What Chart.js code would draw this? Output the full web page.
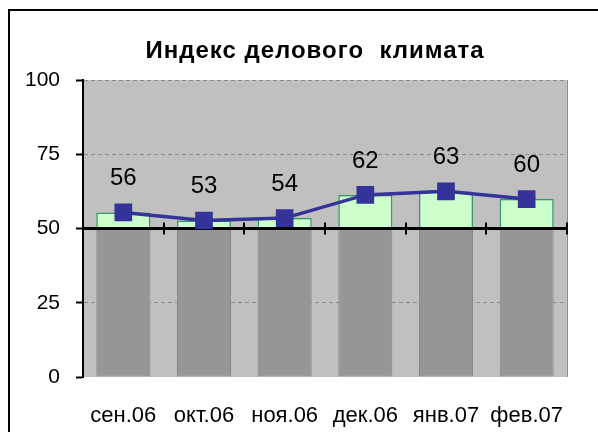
<!DOCTYPE html>
<html>
<head>
<meta charset="utf-8">
<script src="https://cdn.jsdelivr.net/npm/chart.js@4"></script>
<style>
  html, body { margin: 0; padding: 0; background: #fff; }
</style>
</head>
<body>
<canvas id="chart" width="598" height="432"></canvas>
<script>
const months = ['сен.06', 'окт.06', 'ноя.06', 'дек.06', 'янв.07', 'фев.07'];
const indexValues = [55.4, 52.7, 53.5, 61.3, 62.5, 59.9];
const valueLabels = ['56', '53', '54', '62', '63', '60'];
const lowerBars = [50, 50, 50, 50, 50, 50];
const crossValue = 50;
const yTicks = [0, 25, 50, 75, 100];
const titleText = 'Индекс делового  климата';

const FONT = '"Liberation Sans", Arial, sans-serif';

// grey plot area, title and the outer frame
const frame = {
  id: 'frame',
  beforeDraw(chart) {
    const { ctx, chartArea: a } = chart;
    ctx.save();
    ctx.fillStyle = '#c0c0c0';
    ctx.fillRect(a.left, a.top, a.right - a.left, a.bottom - a.top);
    ctx.strokeStyle = '#8c8c8c';
    ctx.lineWidth = 1;
    ctx.beginPath();
    ctx.moveTo(a.right + 0.5, a.top);
    ctx.lineTo(a.right + 0.5, a.bottom);
    ctx.stroke();
    ctx.restore();
  },
  afterDraw(chart) {
    const { ctx } = chart;
    ctx.save();
    ctx.fillStyle = '#000';
    ctx.font = 'bold 24px ' + FONT;
    ctx.letterSpacing = '1px';
    ctx.textAlign = 'center';
    ctx.textBaseline = 'middle';
    ctx.fillText(titleText, 315, 51);
    ctx.letterSpacing = '0px';
    ctx.strokeStyle = '#000';
    ctx.lineWidth = 2;
    ctx.strokeRect(9, 10, 700, 600);
    ctx.restore();
  }
};

// category axis crossing at 50, drawn under the line series
const crossAxis = {
  id: 'crossAxis',
  beforeDatasetDraw(chart, args) {
    if (args.index !== 0) return;
    const { ctx, chartArea: a, scales } = chart;
    const y = scales.y.getPixelForValue(crossValue);
    ctx.save();
    ctx.strokeStyle = '#000';
    ctx.lineWidth = 3;
    ctx.beginPath();
    ctx.moveTo(a.left, y);
    ctx.lineTo(a.right, y);
    ctx.stroke();
    ctx.lineWidth = 2;
    for (let k = 1; k <= months.length; k++) {
      const x = Math.round(scales.x.getPixelForValue(k - 0.5));
      ctx.beginPath();
      ctx.moveTo(x, y - 6);
      ctx.lineTo(x, y + 6);
      ctx.stroke();
    }
    ctx.restore();
  }
};

const pointLabels = {
  id: 'pointLabels',
  afterDatasetsDraw(chart) {
    const { ctx } = chart;
    const meta = chart.getDatasetMeta(0);
    ctx.save();
    ctx.fillStyle = '#000';
    ctx.font = '24px ' + FONT;
    ctx.textAlign = 'center';
    ctx.textBaseline = 'middle';
    meta.data.forEach((pt, i) => {
      ctx.fillText(valueLabels[i], pt.x, pt.y - 34);
    });
    ctx.restore();
  }
};

new Chart(document.getElementById('chart'), {
  type: 'bar',
  data: {
    labels: months,
    datasets: [
      {
        type: 'line',
        data: indexValues,
        borderColor: '#333399',
        backgroundColor: '#333399',
        borderWidth: 3.5,
        pointStyle: 'rect',
        pointRadius: 12.5,
        pointHoverRadius: 12.5,
        pointBorderWidth: 0,
        tension: 0,
        order: 0
      },
      {
        data: lowerBars,
        backgroundColor: '#969696',
        borderColor: '#888888',
        borderWidth: 1,
        borderSkipped: false,
        barPercentage: 0.67,
        categoryPercentage: 1,
        order: 2
      },
      {
        data: indexValues.map(v => [crossValue, v]),
        backgroundColor: '#ccffcc',
        borderColor: '#339966',
        borderWidth: 1.5,
        borderSkipped: false,
        barPercentage: 0.67,
        categoryPercentage: 1,
        order: 1
      }
    ]
  },
  options: {
    responsive: false,
    animation: false,
    layout: { padding: { left: 8, right: 31, top: 80, bottom: 0 } },
    plugins: {
      legend: { display: false },
      tooltip: { enabled: false }
    },
    scales: {
      x: {
        stacked: true,
        offset: true,
        grid: { display: false, drawTicks: false },
        border: { display: false },
        ticks: {
          color: '#000',
          font: { family: FONT, size: 22 },
          padding: 26,
          maxRotation: 0,
          autoSkip: false
        },
        afterFit(scale) { scale.height = 55; }
      },
      y: {
        min: 0,
        max: 100,
        afterBuildTicks(scale) { scale.ticks = yTicks.map(v => ({ value: v })); },
        ticks: {
          color: '#000',
          font: { family: FONT, size: 21 },
          padding: 16
        },
        grid: {
          color: ctx => (ctx.tick && (ctx.tick.value === 0 || ctx.tick.value === crossValue)) ? 'rgba(0,0,0,0)' : '#8c8c8c',
          lineWidth: 1,
          tickColor: '#000',
          tickLength: 7,
          tickWidth: 2
        },
        border: { color: '#000', width: 2, dash: [4, 3] },
        afterFit(scale) { scale.width = 75; }
      }
    }
  },
  plugins: [frame, crossAxis, pointLabels]
});
</script>
</body>
</html>
